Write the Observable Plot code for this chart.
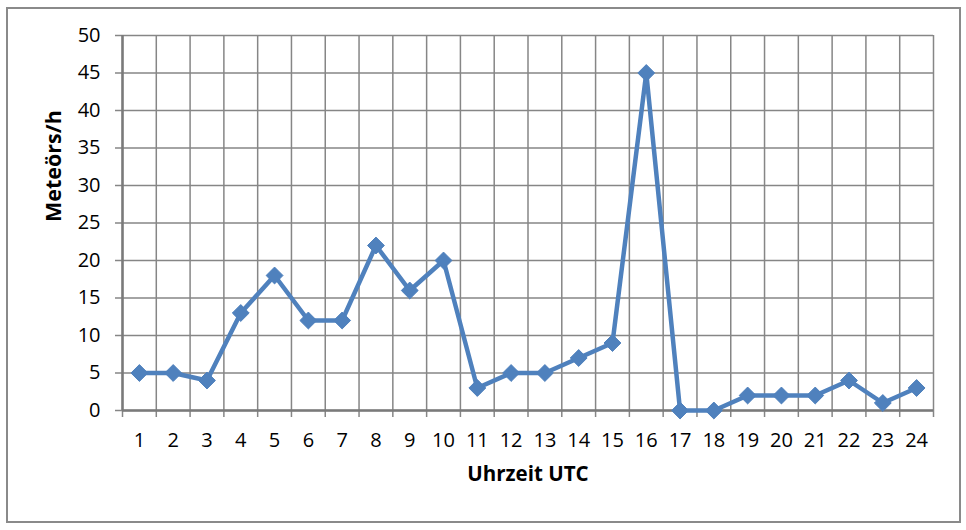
<!DOCTYPE html>
<html>
<head>
<meta charset="utf-8">
<script src="https://cdn.jsdelivr.net/npm/d3@7"></script>
<script src="https://cdn.jsdelivr.net/npm/@observablehq/plot@0.6"></script>
<style>
  html, body { margin: 0; padding: 0; background: #fff; }
  #wrap { position: relative; width: 966px; height: 530px; }
  #border { position: absolute; left: 6px; top: 7px; width: 955px; height: 516px; box-sizing: border-box; border: 2px solid #8a8a8a; pointer-events: none; }
  svg { display: block; }
</style>
</head>
<body>
<div id="wrap"><div id="border"></div></div>
<script>
const hours = [1,2,3,4,5,6,7,8,9,10,11,12,13,14,15,16,17,18,19,20,21,22,23,24];
const meteors = [5,5,4,13,18,12,12,22,16,20,3,5,5,7,9,45,0,0,2,2,2,4,1,3];
const yTicks = [0,5,10,15,20,25,30,35,40,45,50];
const xTitle = "Uhrzeit UTC";
const yTitle = "Meteörs/h";

const data = hours.map((h, i) => ({hour: h, value: meteors[i]}));
const bounds = d3.range(0, hours.length + 1).map(i => i + 0.5);

const gridColor = "#868686";
const font = "'Open Sans', 'Liberation Sans', sans-serif";

const chart = Plot.plot({
  width: 966,
  height: 530,
  marginLeft: 122,
  marginRight: 33,
  marginTop: 35,
  marginBottom: 120,
  style: {fontFamily: font, background: "transparent", color: "#000"},
  x: {type: "linear", domain: [0.5, 24.5], axis: null},
  y: {domain: [0, 50], axis: null},
  marks: [
    Plot.ruleX(bounds, {x: d => d, y1: 0, y2: 50, stroke: gridColor, strokeWidth: 1.5}),
    Plot.ruleY(yTicks, {y: d => d, stroke: gridColor, strokeWidth: 1.5}),
    Plot.axisY({ticks: yTicks, tickSize: 7, tickPadding: 15, stroke: gridColor, strokeWidth: 1.5, fill: "#000", fontSize: 20, label: null}),
    Plot.axisX({ticks: bounds, tickSize: 7, tickFormat: () => "", stroke: gridColor, strokeWidth: 1.5, label: null}),
    Plot.axisX({ticks: hours, tickSize: 0, tickPadding: 22, tickFormat: d => String(d), fill: "#000", fontSize: 20, label: null}),
    Plot.ruleX([0.5], {x: d => d, y1: 0, y2: 50, stroke: "#7a7a7a", strokeWidth: 2.5}),
    Plot.ruleY([0], {y: d => d, stroke: "#7a7a7a", strokeWidth: 2.5}),
    Plot.line(data, {x: "hour", y: "value", stroke: "#4F81BD", strokeWidth: 4.5, strokeLinejoin: "round"}),
    Plot.dot(data, {x: "hour", y: "value", symbol: "diamond2", r: 7.6, fill: "#4F81BD", stroke: "#4F81BD", strokeWidth: 1}),
    Plot.text([yTitle], {frameAnchor: "left", dx: -68, dy: -1, rotate: -90, text: d => d, fontSize: 21.5, fontWeight: "bold", fill: "#000"}),
    Plot.text([xTitle], {frameAnchor: "bottom", dy: 70, text: d => d, fontSize: 20.5, fontWeight: "bold", fill: "#000"})
  ]
});
document.getElementById("wrap").prepend(chart);
</script>
</body>
</html>
